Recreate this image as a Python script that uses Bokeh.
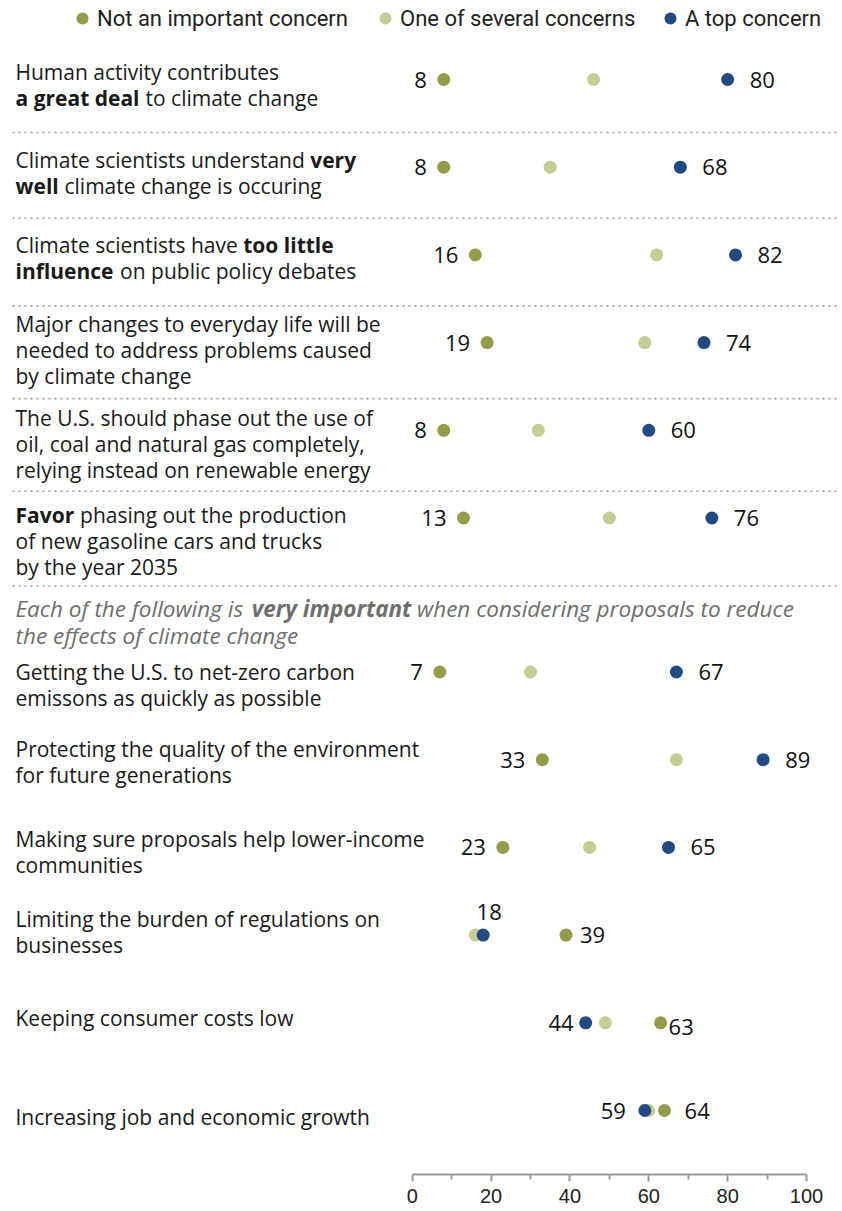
import re
from bokeh.plotting import figure
from bokeh.models import (Range1d, LinearAxis, FixedTicker, Legend, LegendItem,
                          ColumnDataSource)
from bokeh.core.properties import value
from bokeh.embed import file_html
from bokeh.resources import INLINE

# ---------------- data ----------------
labels = [
    "Human activity contributes\n**a great deal** to climate change",
    "Climate scientists understand **very**\n**well** climate change is occuring",
    "Climate scientists have **too little**\n**influence** on public policy debates",
    "Major changes to everyday life will be\nneeded to address problems caused\nby climate change",
    "The U.S. should phase out the use of\noil, coal and natural gas completely,\nrelying instead on renewable energy",
    "**Favor** phasing out the production\nof new gasoline cars and trucks\nby the year 2035",
    "Getting the U.S. to net-zero carbon\nemissons as quickly as possible",
    "Protecting the quality of the environment\nfor future generations",
    "Making sure proposals help lower-income\ncommunities",
    "Limiting the burden of regulations on\nbusinesses",
    "Keeping consumer costs low",
    "Increasing job and economic growth",
]
not_important = [8, 8, 16, 19, 8, 13, 7, 33, 23, 39, 63, 64]
one_of_several = [46, 35, 62, 59, 32, 50, 30, 67, 45, 16, 49, 60]
top_concern = [80, 68, 82, 74, 60, 76, 67, 89, 65, 18, 44, 59]
series_names = ["Not an important concern", "One of several concerns", "A top concern"]
section_note = ("Each of the following is **very important** when considering proposals to reduce\n"
                "the effects of climate change")
x_ticks = [0, 20, 40, 60, 80, 100]
x_minor_ticks = [10, 30, 50, 70, 90]

# ---------------- layout constants ----------------
W = 842
FRAME_H = 1174           # axis line sits at the frame bottom
PX0 = 411.7              # canvas x of value 0
PXU = 3.943              # px per unit
ROW0 = 79.0              # canvas y of first row centre
ROWPX = 87.7             # px per row
GAP = 0.756              # extra gap (rows) before second section
LINE_H = 26.0
C_NOT, C_SEV, C_TOP = "#949c48", "#c6cd92", "#1f4a82"
FONT = "Open Sans"
FSN = 21
FS = "%dpx" % FSN


def cx(px):
    return (px - PX0) / PXU


def cy_off(px):
    return px / ROWPX


ypos = [i + (GAP if i >= 6 else 0) for i in range(len(labels))]

# approximate Open Sans advance widths (units per em 2048)
REG = dict(zip("abcdefghijklmnopqrstuvwxyz",
               [1139, 1255, 975, 1255, 1149, 694, 1122, 1257, 518, 518, 1075, 518, 1905,
                1257, 1237, 1255, 1255, 836, 977, 723, 1257, 1026, 1593, 1073, 1028, 977]))
REG.update({" ": 532, "C": 1298, "E": 1124, "F": 1026, "H": 1483})
BOLD = dict(zip("abcdefghijklmnopqrstuvwxyz",
                [1239, 1300, 1071, 1300, 1251, 797, 1141, 1352, 621, 621, 1298, 621, 1985,
                 1352, 1282, 1300, 1300, 928, 1075, 874, 1352, 1188, 1751, 1200, 1190, 1075]))
BOLD.update({" ": 532, "C": 1370, "E": 1200, "F": 1126, "H": 1600})


def tw(s, bold=False, italic=False, size=FSN):
    tbl = BOLD if bold else REG
    u = sum(tbl.get(ch, 1150) for ch in s)
    if italic:
        u *= 0.935 if bold else 0.96
    return u / 2048.0 * size


def add_runs(store, text, x_px, y_of_line, size, italic=False):
    """split '**bold**' fragments into separately drawn runs"""
    for j, line in enumerate(text.split("\n")):
        acc = 0.0
        for k, seg in enumerate(re.split(r"\*\*", line)):
            if not seg:
                continue
            b = (k % 2 == 1)
            lead = len(seg) - len(seg.lstrip(" "))
            d = store[b]
            d["x"].append(cx(x_px))
            d["y"].append(y_of_line(j))
            d["text"].append(seg.strip(" "))
            d["xo"].append(acc + tw(" " * lead, b, italic, size))
            acc += tw(seg, b, italic, size)


p = figure(frame_width=W, frame_height=FRAME_H,
           x_range=Range1d(cx(0), cx(W)),
           y_range=Range1d((FRAME_H - ROW0) / ROWPX, (0 - ROW0) / ROWPX),
           x_axis_type=None, y_axis_type=None,
           toolbar_location=None, output_backend="svg",
           min_border=0, outline_line_color=None)

# ---- dotted separators ----
SEP_DY = [53, 51, 51, 56, 61, 68]
sep_y = [ypos[i] + cy_off(d) for i, d in enumerate(SEP_DY)]
p.segment(x0=[cx(12)] * 6, x1=[cx(838)] * 6, y0=sep_y, y1=sep_y,
          line_color="#9a9a9a", line_width=1.6, line_dash="2 4")

# ---- row labels (with bold fragments) ----
LABEL_DY = [-8, -7, -10, -19, -12, -3, 0, -11, -8, -16, -5, 6]
runs = {False: dict(x=[], y=[], text=[], xo=[]), True: dict(x=[], y=[], text=[], xo=[])}
for i, lab in enumerate(labels):
    add_runs(runs, lab, 15, lambda j, i=i: ypos[i] + cy_off(LABEL_DY[i] + j * LINE_H), FSN)
for b, d in runs.items():
    p.text(x="x", y="y", text="text", x_offset="xo", source=ColumnDataSource(d),
           text_font=value(FONT), text_font_size=FS,
           text_font_style="bold" if b else "normal",
           text_color="#1a1a1a", text_baseline="middle", text_align="left")

# ---- section note ----
NOTE_FS = 22.5
nruns = {False: dict(x=[], y=[], text=[], xo=[]), True: dict(x=[], y=[], text=[], xo=[])}
add_runs(nruns, section_note, 15, lambda j: ypos[6] + cy_off(-64 + j * 27), NOTE_FS, italic=True)
for b, d in nruns.items():
    p.text(x="x", y="y", text="text", x_offset="xo", source=ColumnDataSource(d),
           text_font=value(FONT), text_font_size="%gpx" % NOTE_FS,
           text_font_style="bold italic" if b else "italic",
           text_color="#6e6e6e", text_baseline="middle", text_align="left")

# ---- dots ----
r_sev = p.scatter(x=one_of_several, y=ypos, size=13, color=C_SEV, line_color=None)
r_not = p.scatter(x=not_important, y=ypos, size=13, color=C_NOT, line_color=None)
r_top = p.scatter(x=top_concern, y=ypos, size=13, color=C_TOP, line_color=None)

# ---- value labels ----
series = {"not": not_important, "top": top_concern}
specs = []
for i in range(9):
    specs.append((i, "not", -17, 0, "right"))
    specs.append((i, "top", 22, 0, "left"))
specs += [(9, "top", 6, -23, "center"), (9, "not", 14, 0, "left"),
          (10, "top", -12, 0, "right"), (10, "not", 8, 4, "left"),
          (11, "top", -19, 0, "right"), (11, "not", 20, 0, "left")]
for align in ("left", "right", "center"):
    sel = [s for s in specs if s[4] == align]
    src = ColumnDataSource(dict(
        x=[series[s[1]][s[0]] for s in sel],
        y=[ypos[s[0]] for s in sel],
        text=[str(series[s[1]][s[0]]) for s in sel],
        xo=[s[2] for s in sel], yo=[s[3] for s in sel]))
    p.text(x="x", y="y", text="text", x_offset="xo", y_offset="yo", source=src,
           text_font=value(FONT), text_font_size="22px", text_color="#111111",
           text_baseline="middle", text_align=align)

# ---- bottom axis ----
axis = LinearAxis(bounds=(0, 100),
                  ticker=FixedTicker(ticks=x_ticks, minor_ticks=x_minor_ticks))
axis.axis_line_color = "#9a9a9a"
axis.axis_line_width = 2
axis.major_tick_line_color = "#9a9a9a"
axis.major_tick_line_width = 2
axis.major_tick_in = 0
axis.major_tick_out = 7
axis.minor_tick_line_color = "#9a9a9a"
axis.minor_tick_line_width = 2
axis.minor_tick_in = 0
axis.minor_tick_out = 5
axis.major_label_text_font = "Liberation Sans"
axis.major_label_text_font_size = "20px"
axis.major_label_text_color = "#222222"
axis.major_label_standoff = 7
p.add_layout(axis, "below")

# ---- legend (one per series, placed across the top) ----
for name, r, lx in zip(series_names, [r_not, r_sev, r_top], [97, 400, 685]):
    lg = Legend(items=[LegendItem(label=name, renderers=[r])],
                location=(lx - 30, FRAME_H - 33), orientation="horizontal",
                glyph_width=30, glyph_height=30, label_standoff=0,
                padding=0, margin=0, spacing=0,
                border_line_alpha=0, background_fill_alpha=0,
                label_text_font="Roboto", label_text_font_size="22px",
                label_text_color="#222222", label_height=30)
    p.add_layout(lg, "center")

open("out.html", "w").write(file_html(p, INLINE))
